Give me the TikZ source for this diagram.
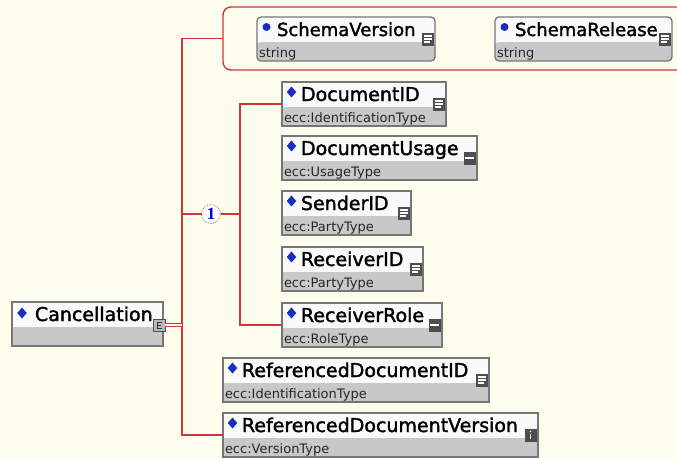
\documentclass[tikz,border=0pt]{standalone}
\usepackage{fontspec}
\setmainfont{DejaVu Sans}
\newfontfamily\namefont[FakeBold=1.8]{DejaVu Sans}
\newfontfamily\numfont{Liberation Serif}
\usetikzlibrary{shapes.geometric,calc}

\definecolor{bgcol}{RGB}{253,253,238}
\definecolor{wirecol}{RGB}{205,55,55}
\definecolor{framecol}{RGB}{118,118,118}
\definecolor{lowercol}{RGB}{200,200,200}
\definecolor{uppercol}{RGB}{250,250,250}
\definecolor{markcol}{RGB}{25,45,190}
\definecolor{iconcol}{RGB}{78,78,78}

% small glyphs drawn inside the dark icon squares
\newcommand\iconlist[1]{%
  \draw[white, line width=1.1pt]
    ($(#1.north west)+(2,3.5)$) -- +(8,0)
    ($(#1.north west)+(2,6.5)$) -- +(8,0)
    ($(#1.north west)+(2,9.5)$) -- +(6,0);}
\newcommand\iconbar[1]{%
  \fill[white] ($(#1.north west)+(1.5,5.5)$) rectangle ($(#1.north west)+(10.5,7.8)$);}
\newcommand\iconinfo[1]{%
  \fill[white] ($(#1.north west)+(6,3)$) circle (0.9);
  \draw[white, line width=1.6pt] ($(#1.north west)+(6,5.5)$) -- +(0,5);}

% one element/attribute box: name, x, y, width, title, type, icon, kind
\newcommand\schemabox[8]{%
  \node[#8box, minimum width=#4pt] (#1) at (#2,#3) {};
  \node[#8mark] (#1-m) at ([xshift=9.5pt,yshift=-10pt]#1.north west) {};
  \node[#8text] (#1-t) at ([yshift=-19pt]#1.north west) {#5};
  \node[typetext] (#1-k) at ([xshift=2pt,yshift=-40pt]#1.north west) {#6};
  \node[iconbox] (#1-i) at ([xshift=-1.5pt,yshift=-15.5pt]#1.north east) {};
  \csname icon#7\endcsname{#1-i}%
}

\begin{document}
\begin{tikzpicture}[x=1pt,y=-1pt,
  every node/.style={outer sep=0pt},
  elembox/.style={draw=framecol, line width=1.3pt, fill=uppercol, anchor=north west,
    inner sep=0pt, minimum height=44pt,
    path picture={\fill[lowercol] ([yshift=-25pt]path picture bounding box.north west)
      rectangle (path picture bounding box.south east);}},
  attrbox/.style={elembox, rounded corners=4pt},
  elemmark/.style={diamond, fill=markcol, inner sep=0pt, minimum width=9.5pt, minimum height=11pt},
  attrmark/.style={circle, fill=markcol, inner sep=0pt, minimum size=8pt},
  nametext/.style={anchor=base west, inner sep=0pt, font=\namefont\fontsize{19}{20}\selectfont},
  elemtext/.style={nametext, xshift=19pt},
  attrtext/.style={nametext, xshift=20pt, font=\namefont\fontsize{18}{20}\selectfont},
  typetext/.style={anchor=base west, inner sep=0pt, text=black!85, font=\fontsize{13}{15}\selectfont},
  iconbox/.style={anchor=north east, fill=iconcol, inner sep=0pt, minimum width=12pt, minimum height=13pt},
  wire/.style={draw=wirecol, line width=1.4pt},
  group/.style={draw=wirecol, line width=1.4pt, rounded corners=8pt, anchor=north west, inner sep=0pt},
  compositor/.style={circle, draw=gray, densely dotted, line width=0.8pt, fill=white,
    minimum size=19pt, inner sep=0pt, text=blue!80!black, font=\numfont\bfseries\fontsize{17}{17}\selectfont}
]
\useasboundingbox (0,0) rectangle (677,458);
\clip (0,0) rectangle (677,458);
\fill[bgcol] (0,0) rectangle (677,458);

% branch positions
\coordinate (trunk) at (182,0);
\coordinate (bus) at (240,0);

% attribute group
\node[group, minimum width=470pt, minimum height=63pt] (grp) at (223,7) {};
\schemabox{sver}{257}{17}{178}{SchemaVersion}{string}{list}{attr}
\schemabox{srel}{495}{17}{177}{SchemaRelease}{string}{list}{attr}

% sequence children
\schemabox{docid}{282}{82}{164}{DocumentID}{ecc:IdentificationType}{list}{elem}
\schemabox{docuse}{282}{136}{195}{DocumentUsage}{ecc:UsageType}{bar}{elem}
\schemabox{sender}{282}{191}{129}{SenderID}{ecc:PartyType}{list}{elem}
\schemabox{recvid}{282}{247}{141}{ReceiverID}{ecc:PartyType}{list}{elem}
\schemabox{rrole}{282}{303}{160}{ReceiverRole}{ecc:RoleType}{bar}{elem}

% remaining children
\schemabox{refid}{223}{358}{266}{ReferencedDocumentID}{ecc:IdentificationType}{list}{elem}
\schemabox{rdv}{223}{413}{315}{ReferencedDocumentVersion}{ecc:VersionType}{info}{elem}

% root element
\node[elembox, minimum width=151pt] (canc) at (12,302) {};
\node[elemmark] (canc-m) at ([xshift=10pt,yshift=-11pt]canc.north west) {};
\node[nametext] (canc-t) at ([xshift=23pt,yshift=-19pt]canc.north west) {Cancellation};
\node[anchor=north west, fill=gray!55, draw=black!70, line width=0.7pt, inner sep=0pt,
  minimum width=12pt, minimum height=12pt] (canc-i) at (153,319) {};
\draw[black!80, line width=0.8pt]
  ($(canc-i.north west)+(8.5,3)$) -- ++(-4,0) -- ++(0,6) -- ++(4,0)
  ($(canc-i.north west)+(4.5,6)$) -- ++(3,0);

% sequence compositor
\node[compositor] (seq) at (211,214) {1};

% connectors
\draw[wire] (grp.west) -- (grp.west -| trunk) -- (trunk |- rdv.west) -- (rdv.west);
\draw[wire] (seq.west) -- (seq.west -| trunk);
\draw[wire] (seq.east) -- (seq.east -| bus);
\draw[wire] (docid.west) -- (docid.west -| bus) -- (bus |- rrole.west) -- (rrole.west);
\draw[draw=wirecol, line width=0.9pt, double=bgcol, double distance=1.4pt]
  (canc-i.east) -- (canc-i.east -| trunk);
\end{tikzpicture}
\end{document}
